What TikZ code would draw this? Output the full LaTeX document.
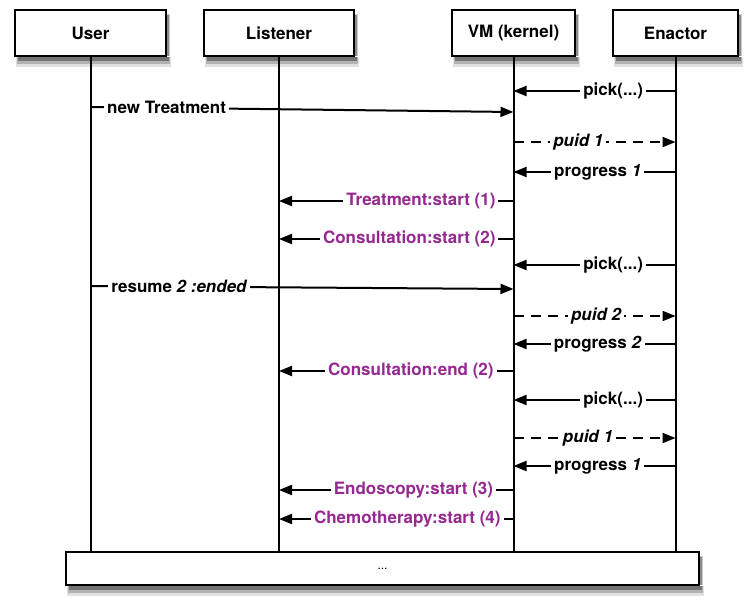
\documentclass[tikz,border=0pt]{standalone}
\usepackage{fontspec}
\setmainfont{TeX Gyre Heros}
\usetikzlibrary{arrows.meta}
\definecolor{evt}{RGB}{150,40,145}

\begin{document}
\begin{tikzpicture}[x=1pt,y=-1pt,
    actor/.style={draw,fill=white,line width=1.3pt,minimum width=#1,minimum height=46pt,
        font=\fontsize{17}{20}\selectfont\bfseries},
    blur/.style={fill=black!#1,draw=none},
    life/.style={line width=2pt},
    msg/.style={line width=2pt,-{Triangle[length=13pt,width=10pt]}},
    ret/.style={msg,dash pattern=on 10pt off 7pt},
    lbl/.style={fill=white,inner sep=3pt,font=\fontsize{17}{20}\selectfont\bfseries},
    ev/.style={lbl,text=evt,anchor=east}]
    \useasboundingbox (0,0) rectangle (752,605);
    % lifelines heads
    \node at (90.5,33) [actor=151pt] (user) {User};
    \node at (279,33) [actor=150pt] (lis) {Listener};
    \node at (513.5,33) [actor=123pt] (vm) {VM (kernel)};
    \node at (675.5,33) [actor=125pt] (enact) {Enactor};
    \node at (382.5,568.5) [draw,fill=white,line width=1.3pt,minimum width=633pt,minimum height=33pt,
        font=\fontsize{12}{14}\selectfont] (bot) {...};
    % soft shadows below and right of the boxes
    \foreach \xa/\xb/\ya/\yb in {15/166/10/56, 204/354/10/56, 452/575/10/56, 613/738/10/56, 66/699/552/585} {
        \fill[blur=12] (\xa+1,\yb+0.7) rectangle (\xb+5,\yb+11);
        \fill[blur=30] (\xa+2,\yb+0.7) rectangle (\xb+3.5,\yb+8);
        \fill[blur=55] (\xa+3,\yb+0.7) rectangle (\xb+2.5,\yb+4.5);
        \fill[blur=20] (\xb+0.7,\ya+4) rectangle (\xb+4,\yb);
        \fill[blur=45] (\xb+0.7,\ya+5) rectangle (\xb+2.5,\yb);
    }
    \draw[life] (user) -- (user |- bot.north) (lis) -- (lis |- bot.north)
        (vm) -- (vm |- bot.north) (enact) -- (enact |- bot.north);
    % messages
    \draw[msg] (enact |- 0,91) -- (vm |- 0,91) node[lbl,pos=0.385] {pick(...)};
    \draw[msg] (user |- 0,107) -- (vm |- 0,112) node[lbl,anchor=west,pos=0.03] {new Treatment};
    \draw[ret] (vm |- 0,142) -- (enact |- 0,142) node[lbl,pos=0.40] {\itshape puid 1};
    \draw[msg] (enact |- 0,172) -- (vm |- 0,172) node[lbl,pos=0.48] {progress \textit{1}};
    \draw[msg] (vm |- 0,201) -- (lis |- 0,201) node[ev,pos=0.06] {Treatment:start (1)};
    \draw[msg] (vm |- 0,239) -- (lis |- 0,239) node[ev,pos=0.06] {Consultation:start (2)};
    \draw[msg] (enact |- 0,265) -- (vm |- 0,265) node[lbl,pos=0.385] {pick(...)};
    \draw[msg] (user |- 0,286) -- (vm |- 0,289) node[lbl,anchor=west,pos=0.04] {resume \textit{2 :ended}};
    \draw[ret] (vm |- 0,316) -- (enact |- 0,316) node[lbl,pos=0.51] {\itshape puid 2};
    \draw[msg] (enact |- 0,344) -- (vm |- 0,344) node[lbl,pos=0.48] {progress \textit{2}};
    \draw[msg] (vm |- 0,371) -- (lis |- 0,371) node[ev,pos=0.068] {Consultation:end (2)};
    \draw[msg] (enact |- 0,400) -- (vm |- 0,400) node[lbl,pos=0.385] {pick(...)};
    \draw[ret] (vm |- 0,438) -- (enact |- 0,438) node[lbl,pos=0.46] {\itshape puid 1};
    \draw[msg] (enact |- 0,466) -- (vm |- 0,466) node[lbl,pos=0.48] {progress \textit{1}};
    \draw[msg] (vm |- 0,490) -- (lis |- 0,490) node[ev,pos=0.07] {Endoscopy:start (3)};
    \draw[msg] (vm |- 0,519) -- (lis |- 0,519) node[ev,pos=0.038] {Chemotherapy:start (4)};
\end{tikzpicture}
\end{document}
